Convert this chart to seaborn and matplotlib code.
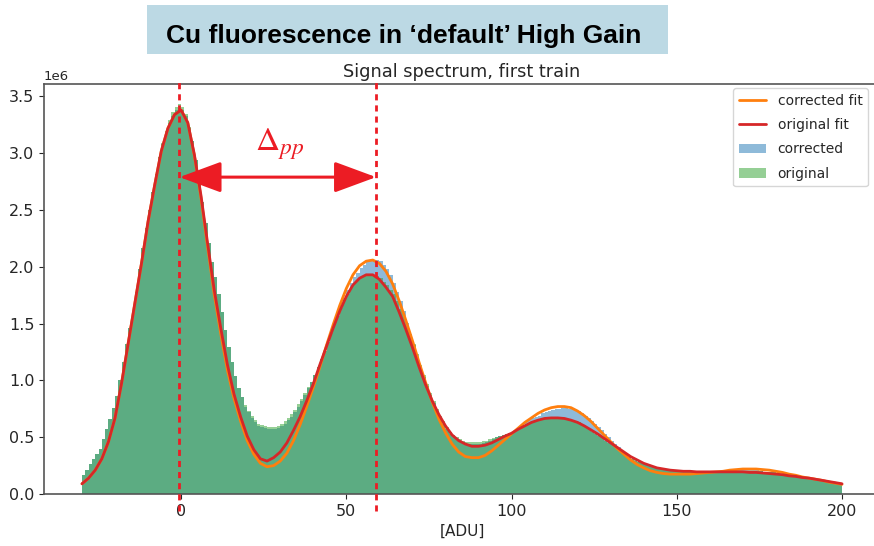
import numpy as np
import pandas as pd
import matplotlib
matplotlib.use("Agg")
import matplotlib.pyplot as plt
import seaborn as sns
from matplotlib.lines import Line2D
from matplotlib.patches import Patch, Rectangle, FancyArrowPatch

# ---------------- data (values in units of 1e6 counts) ----------------
bin_edges = list(range(-30, 201))          # 1-ADU bins from -30 to 200

original = [
    0.17, 0.21, 0.26, 0.31, 0.35, 0.40, 0.48, 0.57, 0.66, 0.76,   # -30..-21
    0.86, 1.00, 1.16, 1.32, 1.46, 1.60, 1.78, 1.98, 2.17, 2.34,   # -20..-11
    2.50, 2.66, 2.82, 2.97, 3.09, 3.20, 3.29, 3.36, 3.41, 3.43,   # -10..-1
    3.41, 3.35, 3.23, 3.11, 2.94, 2.75, 2.57, 2.39, 2.21, 2.04,   # 0..9
    1.91, 1.76, 1.60, 1.44, 1.29, 1.16, 1.04, 0.93, 0.85, 0.78,   # 10..19
    0.73, 0.69, 0.65, 0.62, 0.61, 0.60, 0.59, 0.59, 0.59, 0.60,   # 20..29
    0.62, 0.64, 0.67, 0.70, 0.74, 0.79, 0.84, 0.89, 0.94, 0.99,   # 30..39
    1.05, 1.12, 1.19, 1.26, 1.34, 1.42, 1.50, 1.57, 1.64, 1.71,   # 40..49
    1.76, 1.81, 1.85, 1.88, 1.90, 1.92, 1.93, 1.93, 1.93, 1.92,   # 50..59
    1.90, 1.87, 1.84, 1.80, 1.76, 1.70, 1.63, 1.56, 1.48, 1.40,   # 60..69
    1.32, 1.23, 1.14, 1.05, 0.97, 0.89, 0.82, 0.75, 0.69, 0.64,   # 70..79
    0.59, 0.55, 0.52, 0.50, 0.48, 0.47, 0.46, 0.46, 0.46, 0.46,   # 80..89
    0.46, 0.47, 0.47, 0.48, 0.49, 0.50, 0.51, 0.52, 0.53, 0.54,   # 90..99
    0.55, 0.57, 0.58, 0.60, 0.61, 0.62, 0.63, 0.64, 0.65, 0.66,   # 100..109
    0.66, 0.67, 0.67, 0.67, 0.67, 0.67, 0.67, 0.66, 0.65, 0.64,   # 110..119
    0.63, 0.61, 0.59, 0.57, 0.55, 0.53, 0.51, 0.49, 0.47, 0.45,   # 120..129
    0.43, 0.41, 0.39, 0.37, 0.35, 0.33, 0.31, 0.30, 0.28, 0.27,   # 130..139
    0.26, 0.25, 0.24, 0.23, 0.22, 0.22, 0.21, 0.21, 0.20, 0.20,   # 140..149
    0.20, 0.19, 0.19, 0.19, 0.19, 0.19, 0.19, 0.19, 0.19, 0.19,   # 150..159
    0.19, 0.19, 0.19, 0.19, 0.20, 0.20, 0.20, 0.20, 0.20, 0.20,   # 160..169
    0.20, 0.20, 0.20, 0.20, 0.20, 0.20, 0.19, 0.19, 0.19, 0.19,   # 170..179
    0.18, 0.18, 0.17, 0.17, 0.16, 0.16, 0.15, 0.15, 0.14, 0.14,   # 180..189
    0.14, 0.13, 0.13, 0.12, 0.12, 0.11, 0.11, 0.10, 0.10, 0.09,   # 190..199
]

corrected = [
    0.17, 0.21, 0.26, 0.31, 0.35, 0.40, 0.48, 0.57, 0.66, 0.76,   # -30..-21
    0.86, 1.00, 1.16, 1.32, 1.46, 1.60, 1.78, 1.98, 2.17, 2.34,   # -20..-11
    2.50, 2.66, 2.82, 2.97, 3.08, 3.18, 3.27, 3.33, 3.38, 3.40,   # -10..-1
    3.38, 3.33, 3.22, 3.11, 2.94, 2.75, 2.57, 2.39, 2.21, 2.04,   # 0..9
    1.91, 1.76, 1.60, 1.44, 1.29, 1.16, 1.04, 0.93, 0.85, 0.77,   # 10..19
    0.72, 0.67, 0.63, 0.60, 0.59, 0.58, 0.57, 0.57, 0.57, 0.58,   # 20..29
    0.60, 0.62, 0.65, 0.68, 0.72, 0.77, 0.82, 0.87, 0.93, 0.99,   # 30..39
    1.05, 1.12, 1.19, 1.26, 1.34, 1.42, 1.50, 1.58, 1.66, 1.73,   # 40..49
    1.80, 1.86, 1.91, 1.95, 1.99, 2.02, 2.04, 2.05, 2.06, 2.06,   # 50..59
    2.05, 2.02, 1.98, 1.93, 1.86, 1.78, 1.70, 1.61, 1.51, 1.41,   # 60..69
    1.31, 1.21, 1.12, 1.03, 0.95, 0.87, 0.80, 0.73, 0.67, 0.62,   # 70..79
    0.57, 0.53, 0.50, 0.48, 0.46, 0.45, 0.44, 0.44, 0.44, 0.44,   # 80..89
    0.44, 0.45, 0.46, 0.47, 0.48, 0.50, 0.51, 0.52, 0.53, 0.54,   # 90..99
    0.55, 0.57, 0.59, 0.61, 0.63, 0.65, 0.67, 0.68, 0.69, 0.71,   # 100..109
    0.72, 0.73, 0.74, 0.75, 0.75, 0.755, 0.755, 0.75, 0.745, 0.74,  # 110..119
    0.73, 0.71, 0.69, 0.67, 0.645, 0.62, 0.59, 0.56, 0.53, 0.50,  # 120..129
    0.47, 0.44, 0.41, 0.38, 0.35, 0.33, 0.31, 0.29, 0.28, 0.27,   # 130..139
    0.26, 0.25, 0.24, 0.23, 0.22, 0.22, 0.21, 0.21, 0.20, 0.20,   # 140..149
    0.20, 0.19, 0.19, 0.19, 0.19, 0.19, 0.19, 0.19, 0.19, 0.19,   # 150..159
    0.19, 0.19, 0.19, 0.19, 0.20, 0.20, 0.20, 0.20, 0.21, 0.21,   # 160..169
    0.21, 0.21, 0.21, 0.21, 0.21, 0.20, 0.19, 0.19, 0.19, 0.19,   # 170..179
    0.18, 0.18, 0.17, 0.17, 0.16, 0.16, 0.15, 0.15, 0.14, 0.14,   # 180..189
    0.14, 0.13, 0.13, 0.12, 0.12, 0.11, 0.11, 0.10, 0.10, 0.09,   # 190..199
]

fit_x = list(range(-30, 201, 2))

original_fit = [
    0.09, 0.14, 0.21, 0.31, 0.46, 0.67, 0.98, 1.33, 1.68, 2.03,    # -30..-12
    2.40, 2.72, 3.02, 3.22, 3.34, 3.38, 3.27, 2.99, 2.63, 2.21,    # -10..8
    1.80, 1.46, 1.14, 0.88, 0.68, 0.51, 0.39, 0.31, 0.29, 0.32,    # 10..28
    0.37, 0.45, 0.56, 0.68, 0.82, 0.97, 1.14, 1.30, 1.46, 1.61,    # 30..48
    1.74, 1.84, 1.90, 1.93, 1.93, 1.89, 1.82, 1.74, 1.60, 1.45,    # 50..68
    1.29, 1.12, 0.96, 0.82, 0.70, 0.60, 0.52, 0.47, 0.44, 0.42,    # 70..88
    0.42, 0.43, 0.45, 0.48, 0.51, 0.535, 0.57, 0.60, 0.63, 0.65,   # 90..108
    0.665, 0.67, 0.67, 0.665, 0.65, 0.63, 0.60, 0.565, 0.53, 0.49, # 110..128
    0.45, 0.41, 0.37, 0.33, 0.30, 0.27, 0.25, 0.23, 0.22, 0.21,    # 130..148
    0.205, 0.20, 0.20, 0.195, 0.195, 0.195, 0.195, 0.195, 0.195, 0.195,  # 150..168
    0.195, 0.19, 0.19, 0.185, 0.18, 0.175, 0.17, 0.16, 0.155, 0.145,     # 170..188
    0.14, 0.13, 0.12, 0.11, 0.10, 0.09,                              # 190..200
]

corrected_fit = [
    0.09, 0.14, 0.21, 0.31, 0.46, 0.67, 0.98, 1.33, 1.68, 2.03,    # -30..-12
    2.40, 2.72, 3.02, 3.22, 3.34, 3.38, 3.27, 2.98, 2.61, 2.18,    # -10..8
    1.76, 1.41, 1.09, 0.84, 0.64, 0.47, 0.35, 0.27, 0.24, 0.25,    # 10..28
    0.29, 0.36, 0.47, 0.61, 0.77, 0.94, 1.12, 1.31, 1.49, 1.66,    # 30..48
    1.81, 1.93, 2.01, 2.05, 2.06, 2.03, 1.96, 1.85, 1.70, 1.53,    # 50..68
    1.35, 1.16, 0.98, 0.81, 0.66, 0.54, 0.44, 0.37, 0.33, 0.32,    # 70..88
    0.32, 0.34, 0.38, 0.43, 0.48, 0.53, 0.58, 0.63, 0.67, 0.71,    # 90..108
    0.74, 0.76, 0.77, 0.77, 0.76, 0.73, 0.69, 0.64, 0.58, 0.52,    # 110..128
    0.46, 0.40, 0.35, 0.30, 0.26, 0.23, 0.205, 0.19, 0.18, 0.175,  # 130..148
    0.175, 0.175, 0.175, 0.18, 0.185, 0.19, 0.195, 0.20, 0.21, 0.215,  # 150..168
    0.22, 0.22, 0.22, 0.215, 0.21, 0.20, 0.19, 0.175, 0.165, 0.15,     # 170..188
    0.14, 0.13, 0.12, 0.105, 0.095, 0.085,                           # 190..200
]

x_ticks = [0, 50, 100, 150, 200]
y_ticks = [0.0, 0.5, 1.0, 1.5, 2.0, 2.5, 3.0, 3.5]
peak_positions = [-0.5, 59.0]     # ADU positions of the two marked peaks
arrow_level = 2.79                # height of the Δpp arrow (1e6)

banner_text = "Cu fluorescence in \u2018default\u2019 High Gain"
title_text = "Signal spectrum, first train"
xlabel_text = "[ADU]"
delta_text = r"$\Delta_{pp}$"

# ---------------- styling ----------------
sns.set_style("ticks")
plt.rcParams["font.family"] = ["DejaVu Sans"]
plt.rcParams["mathtext.fontset"] = "stix"

C_BLUE = "#1f77b4"
C_GREEN = "#2ca02c"
C_ORANGE = "#ff7f0e"
C_RED = "#d62728"
C_ANN = "#ec1c24"
TXT = "#262626"

W, H = 874, 546
fig = plt.figure(figsize=(W / 100, H / 100), dpi=100)
fig.patch.set_facecolor("white")
ax = fig.add_axes([44 / W, 52 / H, 836 / W, 410 / H])

centers = np.array(bin_edges[:-1]) + 0.5
df = pd.DataFrame({
    "adu": centers,
    "original": np.array(original) * 1e6,
    "corrected": np.array(corrected) * 1e6,
})
fits = pd.DataFrame({
    "adu": fit_x,
    "original_fit": np.array(original_fit) * 1e6,
    "corrected_fit": np.array(corrected_fit) * 1e6,
})

sns.histplot(data=df, x="adu", weights="corrected", bins=bin_edges,
             element="step", fill=True, color=C_BLUE, alpha=0.5,
             linewidth=0, ax=ax)
sns.histplot(data=df, x="adu", weights="original", bins=bin_edges,
             element="step", fill=True, color=C_GREEN, alpha=0.5,
             linewidth=0, ax=ax)
sns.lineplot(data=fits, x="adu", y="corrected_fit", color=C_ORANGE,
             linewidth=2.0, ax=ax)
sns.lineplot(data=fits, x="adu", y="original_fit", color=C_RED,
             linewidth=2.0, ax=ax)

ax.set_xlim(-41.5, 211.5)
ax.set_ylim(0, 3.61e6)
ax.set_xticks(x_ticks)
ax.set_yticks(np.array(y_ticks) * 1e6)
ax.tick_params(labelsize=11.5, colors=TXT, length=3.5, width=0.8)
ax.yaxis.get_offset_text().set_fontsize(9.5)
ax.yaxis.get_offset_text().set_color(TXT)
for s in ax.spines.values():
    s.set_color("#555555")
    s.set_linewidth(1.2)

ax.set_title(title_text, fontsize=12.8, color=TXT, pad=5)
ax.set_xlabel(xlabel_text, fontsize=11, color=TXT, labelpad=4)
ax.set_ylabel("")

# dotted peak markers
for p in peak_positions:
    ax.axvline(p, ymin=-0.042, ymax=1.01, clip_on=False, color=C_ANN,
               linewidth=2.0, linestyle=(0, (2.2, 1.8)), zorder=5)

# double arrow
arr = FancyArrowPatch((peak_positions[0], arrow_level * 1e6),
                      (peak_positions[1], arrow_level * 1e6),
                      arrowstyle="<|-|>,head_length=1.3,head_width=0.48",
                      mutation_scale=20, color=C_ANN, linewidth=2.2,
                      shrinkA=0, shrinkB=0, zorder=6)
ax.add_patch(arr)
fig.text(255 / W, (H - 150) / H, delta_text, color=C_ANN, fontsize=24,
         ha="left", va="baseline")

# legend
handles = [
    Line2D([], [], color=C_ORANGE, lw=2),
    Line2D([], [], color=C_RED, lw=2),
    Patch(facecolor=C_BLUE, alpha=0.5, edgecolor="none"),
    Patch(facecolor=C_GREEN, alpha=0.5, edgecolor="none"),
]
labels = ["corrected fit", "original fit", "corrected", "original"]
leg = ax.legend(handles, labels, loc="upper right",
                bbox_to_anchor=(868 / W, 1 - 88 / H),
                bbox_transform=fig.transFigure, borderaxespad=0,
                fontsize=10, frameon=True, framealpha=0.8,
                edgecolor="#cccccc", fancybox=True, labelspacing=0.75)
for t in leg.get_texts():
    t.set_color(TXT)

# banner
fig.patches.append(Rectangle((147 / W, (H - 54) / H), 521 / W, 49 / H,
                             transform=fig.transFigure, facecolor="#bcd9e4",
                             edgecolor="none", zorder=0))
fig.text(404 / W, (H - 43) / H, banner_text, fontsize=19, fontweight="bold",
         family=["Liberation Sans", "DejaVu Sans"], color="black",
         ha="center", va="baseline")

fig.savefig("out.png", dpi=100)
